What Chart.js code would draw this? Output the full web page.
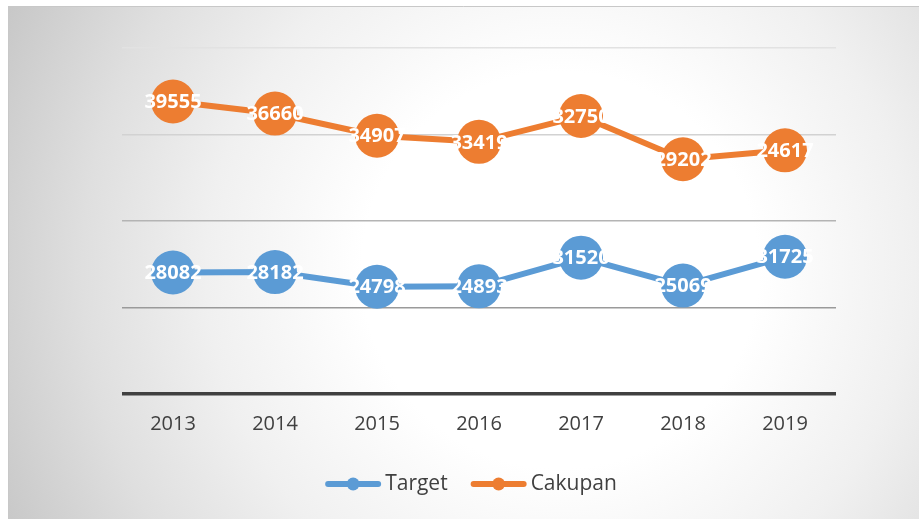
<!DOCTYPE html>
<html>
<head>
<meta charset="utf-8">
<script src="https://cdn.jsdelivr.net/npm/chart.js@4/dist/chart.umd.min.js"></script>
<style>
html,body{margin:0;padding:0;background:#fff;}
#wrap{width:919px;height:519px;position:relative;}
</style>
</head>
<body>
<div id="wrap"><canvas id="c" width="919" height="519"></canvas></div>
<script>
const years = ['2013','2014','2015','2016','2017','2018','2019'];
const target = [28082, 28182, 24798, 24893, 31520, 25069, 31725];
const cakupan = [39555, 36660, 34907, 33419, 32750, 29202, 24617];
const seriesNames = ['Target', 'Cakupan'];
const seriesColors = ['#5B9BD5', '#ED7D31'];

const gridColors = {0:'#404040', 20000:'#9a9a9a', 40000:'#b4b4b4', 60000:'#d2d2d2', 80000:'#e2e2e2'};

const bgPlugin = {
  id: 'bg',
  beforeDraw(chart) {
    const ctx = chart.ctx;
    ctx.save();
    ctx.fillStyle = '#ffffff';
    ctx.fillRect(0, 0, chart.width, chart.height);
    const g = ctx.createRadialGradient(560, 270, 0, 560, 270, 620);
    g.addColorStop(0, '#ffffff');
    g.addColorStop(0.32, '#ffffff');
    g.addColorStop(0.57, '#f0f0f0');
    g.addColorStop(0.77, '#dfdfdf');
    g.addColorStop(1, '#c6c6c6');
    ctx.fillStyle = g;
    ctx.fillRect(8, 6, chart.width - 8, chart.height - 6);
    ctx.strokeStyle = '#c8c8c8';
    ctx.lineWidth = 1;
    ctx.beginPath();
    ctx.moveTo(8.5, chart.height);
    ctx.lineTo(8.5, 6.5);
    ctx.lineTo(chart.width, 6.5);
    ctx.stroke();
    ctx.restore();
  }
};

const labelPlugin = {
  id: 'dlabels',
  afterDatasetsDraw(chart) {
    const ctx = chart.ctx;
    ctx.save();
    ctx.font = 'bold 20px "Open Sans"';
    ctx.fillStyle = '#ffffff';
    ctx.textAlign = 'center';
    ctx.textBaseline = 'middle';
    chart.data.datasets.forEach((ds, i) => {
      const meta = chart.getDatasetMeta(i);
      meta.data.forEach((pt, j) => {
        ctx.fillText(String(ds.data[j]), pt.x, pt.y + 1);
      });
    });
    ctx.restore();
  }
};

const legendPlugin = {
  id: 'customLegend',
  afterDraw(chart) {
    const ctx = chart.ctx;
    ctx.save();
    ctx.font = '21px "Open Sans"';
    ctx.textBaseline = 'middle';
    const lineLen = 56, gapText = 4, gapItem = 23;
    const items = chart.data.datasets.map(ds => ({label: ds.label, color: ds.borderColor, w: ctx.measureText(ds.label).width}));
    let total = 0;
    items.forEach((it, i) => { total += lineLen + gapText + it.w + (i ? gapItem : 0); });
    const ca = chart.chartArea;
    let x = (ca.left + ca.right) / 2 - 8 - total / 2;
    const y = 484;
    items.forEach((it, i) => {
      if (i) x += gapItem;
      ctx.strokeStyle = it.color;
      ctx.lineWidth = 6;
      ctx.lineCap = 'round';
      ctx.beginPath();
      ctx.moveTo(x + 3, y);
      ctx.lineTo(x + lineLen - 3, y);
      ctx.stroke();
      ctx.fillStyle = it.color;
      ctx.beginPath();
      ctx.arc(x + lineLen / 2, y, 6.5, 0, Math.PI * 2);
      ctx.fill();
      ctx.fillStyle = '#404040';
      ctx.textAlign = 'left';
      ctx.fillText(it.label, x + lineLen + gapText, y);
      x += lineLen + gapText + it.w;
    });
    ctx.restore();
  }
};

new Chart(document.getElementById('c'), {
  type: 'line',
  data: {
    labels: years,
    datasets: [
      {label: seriesNames[0], data: target, borderColor: seriesColors[0], backgroundColor: seriesColors[0]},
      {label: seriesNames[1], data: cakupan, borderColor: seriesColors[1], backgroundColor: seriesColors[1]}
    ].map(d => Object.assign(d, {
      borderWidth: 6, pointRadius: 22, pointHoverRadius: 22, pointBorderWidth: 0,
      pointBackgroundColor: d.borderColor, fill: false, tension: 0, clip: false
    }))
  },
  options: {
    responsive: false,
    animation: false,
    devicePixelRatio: 1,
    layout: {padding: {left: 122, right: 83, top: 48, bottom: 65}},
    plugins: {legend: {display: false}, tooltip: {enabled: false}},
    scales: {
      x: {
        offset: true,
        grid: {display: false, drawTicks: false},
        border: {display: false},
        ticks: {color: '#404040', font: {family: 'Open Sans', size: 20}, padding: 18}
      },
      y: {
        stacked: true,
        min: 0, max: 80000,
        ticks: {display: false, stepSize: 20000},
        border: {display: false},
        grid: {
          drawTicks: false,
          color: c => gridColors[c.tick.value] || '#d0d0d0',
          lineWidth: c => c.tick.value === 0 ? 3.5 : 1.5
        }
      }
    }
  },
  plugins: [bgPlugin, labelPlugin, legendPlugin]
});
</script>
</body>
</html>
